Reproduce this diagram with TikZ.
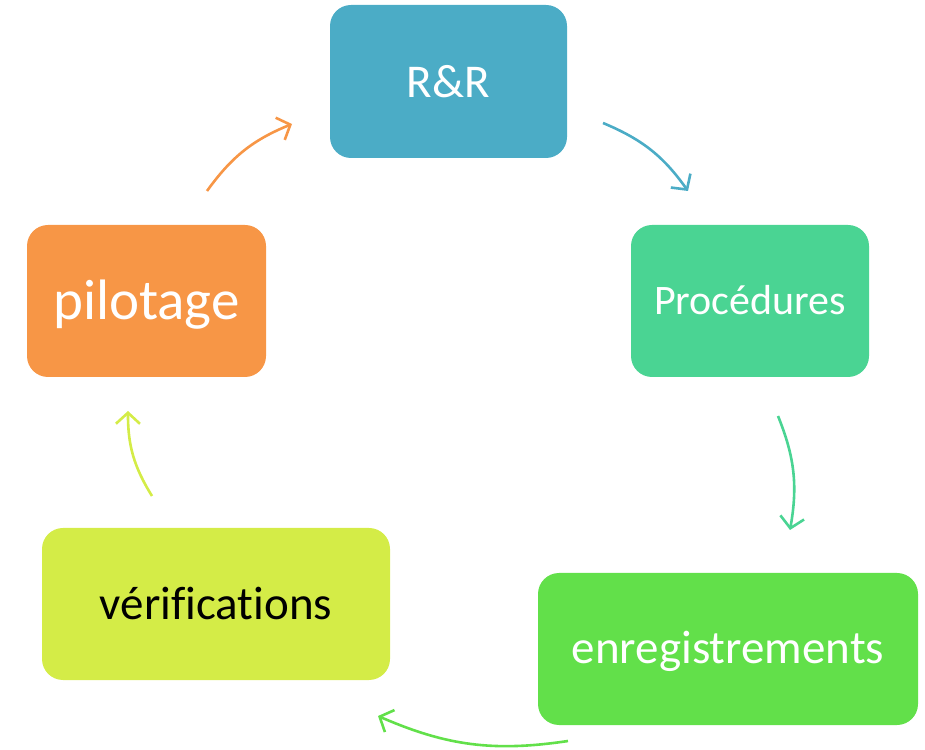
\documentclass[tikz,border=0pt]{standalone}
\usepackage{fontspec}
\setmainfont{Carlito}[Ligatures=NoCommon]
\usetikzlibrary{arrows.meta}
\definecolor{cBlue}{HTML}{4BACC6}
\definecolor{cTeal}{HTML}{4AD493}
\definecolor{cGreen}{HTML}{62E04A}
\definecolor{cLime}{HTML}{D4EC47}
\definecolor{cOrange}{HTML}{F79646}
\tikzset{
  stepbox/.style={rounded corners=21pt, inner sep=0pt, text depth=0pt, align=center},
  cyclearrow/.style={line width=2.6pt, -{Straight Barb[length=11pt,width=24pt,line width=2.6pt]}, bend left=16}
}
\begin{document}
\begin{tikzpicture}[x=1pt,y=1pt]
  \useasboundingbox (0,0) rectangle (925,749);
  % the five stages
  \node[stepbox, fill=cBlue, text=white, minimum width=237pt, minimum height=153pt,
        text height=32pt, font=\fontsize{47}{50}\selectfont] (rr) at (448.5,667.5) {R\&R};
  \node[stepbox, fill=cTeal, text=white, minimum width=238pt, minimum height=152pt,
        text height=28pt, font=\fontsize{42}{45}\selectfont] (proc) at (750,448) {Procédures};
  \node[stepbox, fill=cGreen, text=white, minimum width=380pt, minimum height=152pt,
        text height=30pt, font=\fontsize{47}{50}\selectfont] (enr) at (728,100) {enregistrements};
  \node[stepbox, fill=cLime, text=black, minimum width=348pt, minimum height=152pt,
        text height=31pt, font=\fontsize{47}{50}\selectfont] (verif) at (216,145) {vérifications};
  \node[stepbox, fill=cOrange, text=white, minimum width=239pt, minimum height=152pt,
        text height=37pt, font=\fontsize{57}{60}\selectfont] (pil) at (146.5,448) {pilotage};
  % arrow end points around the cycle
  \coordinate (a1) at (603,626);
  \coordinate (a2) at (688,558);
  \coordinate (b1) at (778,333);
  \coordinate (b2) at (790,219);
  \coordinate (c1) at (568,8);
  \coordinate (c2) at (378,33);
  \coordinate (d1) at (152,253);
  \coordinate (d2) at (128,338);
  \coordinate (e1) at (207,558);
  \coordinate (e2) at (292,625);
  \draw[cyclearrow, cBlue] (a1) to (a2);
  \draw[cyclearrow, cTeal] (b1) to (b2);
  \draw[cyclearrow, cGreen] (c1) to (c2);
  \draw[cyclearrow, cLime] (d1) to (d2);
  \draw[cyclearrow, cOrange] (e1) to (e2);
\end{tikzpicture}
\end{document}
